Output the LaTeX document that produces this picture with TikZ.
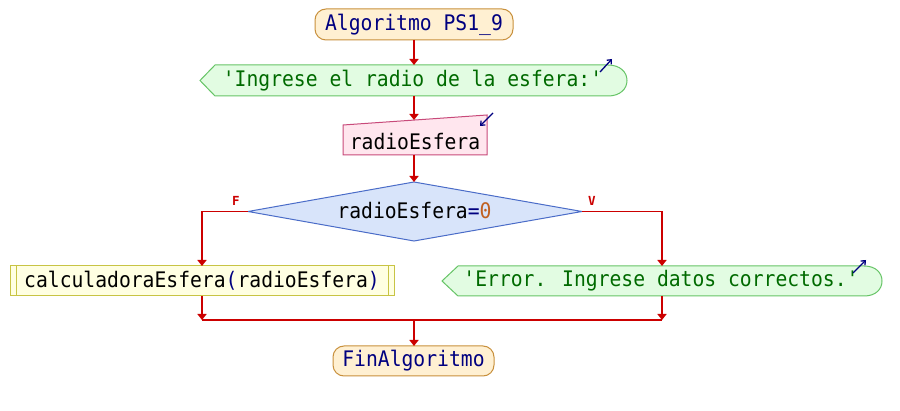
\documentclass[tikz,border=0pt]{standalone}
\usepackage{fontspec}
\newfontfamily\flowfont{DejaVu Sans Mono}[FakeStretch=0.92]
\newfontfamily\flowbold{DejaVu Sans Mono Bold}
\usetikzlibrary{arrows.meta,calc}
\definecolor{flowred}{HTML}{CC0000}
\definecolor{kw}{HTML}{000080}
\definecolor{strtxt}{HTML}{006A00}
\definecolor{numtxt}{HTML}{C06020}
\definecolor{termbg}{HTML}{FFF0D2}
\definecolor{termbd}{HTML}{C8903C}
\definecolor{outbg}{HTML}{E2FCE2}
\definecolor{outbd}{HTML}{66C466}
\definecolor{inbg}{HTML}{FFE6EE}
\definecolor{inbd}{HTML}{C84A7A}
\definecolor{decbg}{HTML}{D8E4FA}
\definecolor{decbd}{HTML}{4A6CC8}
\definecolor{procbg}{HTML}{FFFFE2}
\definecolor{procbd}{HTML}{C8C444}
\tikzset{
  box/.style={inner sep=0pt, outer sep=0pt, minimum height=30pt},
  flow/.style={draw=flowred, line width=1.5pt, -{Triangle[width=9pt,length=6pt]}},
  wire/.style={draw=flowred, line width=1.5pt},
  icon/.style={draw=kw, line width=1.3pt, -{Straight Barb[length=3.5pt,width=6pt]}},
  branch/.style={text=flowred, font=\flowbold\fontsize{12.5}{13}\selectfont},
}
\begin{document}
\begin{tikzpicture}[x=1pt, y=-1pt, font=\flowfont\fontsize{21.4}{23}\selectfont]
\useasboundingbox (0,0) rectangle (900,411);
\fill[white] (0,0) rectangle (900,411);

% start terminal
\node[box, minimum width=198pt, minimum height=31pt, rounded corners=11pt,
      draw=termbd, fill=termbg, line width=1pt, text=kw] (start) at (414,24.5) {Algoritmo PS1\_9};

% first output
\draw[draw=outbd, fill=outbg, line width=1pt]
  (200,80.5) -- (215,65) -- (608,65) .. controls (620,65) and (627,72) .. (627,80.5)
  .. controls (627,89) and (620,96) .. (608,96) -- (215,96) -- cycle;
\node[box, minimum width=427pt, minimum height=31pt] (out1) at (414,80.5) {};
\node[text=strtxt] (out1t) at (412.5,80.5) {'Ingrese el radio de la esfera:'};
\draw[icon] (600,72) -- (612,59);

% input
\draw[draw=inbd, fill=inbg, line width=1pt] (343,125) -- (487,115) -- (487,155) -- (343,155) -- cycle;
\node[box, minimum width=144pt, minimum height=35pt] (in1) at (414,137.5) {};
\node (in1t) at (415,142) {radioEsfera};
\draw[icon] (493,113) -- (480,126);

% decision
\draw[draw=decbd, fill=decbg, line width=1pt] (248,211.5) -- (414,182) -- (582,211.5) -- (414,241) -- cycle;
\node[box, minimum width=334pt, minimum height=59pt] (dec) at (415,211.5) {};
\node (dect) at (414.5,211) {radioEsfera{\color{kw}=}{\color{numtxt}0}};
\node[branch] (lf) at (236,201) {F};
\node[branch] (lv) at (592,201) {V};

% subprocess call
\node[box, minimum width=384pt, minimum height=30pt, draw=procbd, fill=procbg, line width=1pt] (proc) at (202,281) {};
\draw[procbd, line width=1pt] (16,266) -- (16,296) (388,266) -- (388,296);
\node (proct) at (202,281) {calculadoraEsfera{\color{kw}(}radioEsfera{\color{kw})}};

% second output
\draw[draw=outbd, fill=outbg, line width=1pt]
  (442,281) -- (458,266) -- (864,266) .. controls (876,266) and (882,273) .. (882,281)
  .. controls (882,289) and (876,296) .. (864,296) -- (458,296) -- cycle;
\node[box, minimum width=440pt, minimum height=30pt] (out2) at (662,281) {};
\node[text=strtxt] (out2t) at (661,281) {'Error. Ingrese datos correctos.'};
\draw[icon] (853,273) -- (866,260);

% end terminal
\node[box, minimum width=161pt, minimum height=30pt, rounded corners=11pt,
      draw=termbd, fill=termbg, line width=1pt, text=kw] (fin) at (413.5,361) {FinAlgoritmo};

% connectors
\coordinate (inTop) at (414,120);
\coordinate (join) at (414,320);
\coordinate (joinL) at (202,320);
\coordinate (joinR) at (662,320);
\draw[flow] (start.south) -- (out1.north);
\draw[flow] (out1.south) -- (inTop);
\draw[flow] (in1.south) -- (in1.south |- dec.north);
\draw[flow] (dec.west) -| (proc.north);
\draw[flow] (dec.east) -| (out2.north);
\draw[flow] (proc.south) -- (joinL);
\draw[flow] (out2.south) -- (joinR);
\draw[wire] (joinL) -- (joinR);
\draw[flow] (join) -- (join |- fin.north);
\end{tikzpicture}
\end{document}
